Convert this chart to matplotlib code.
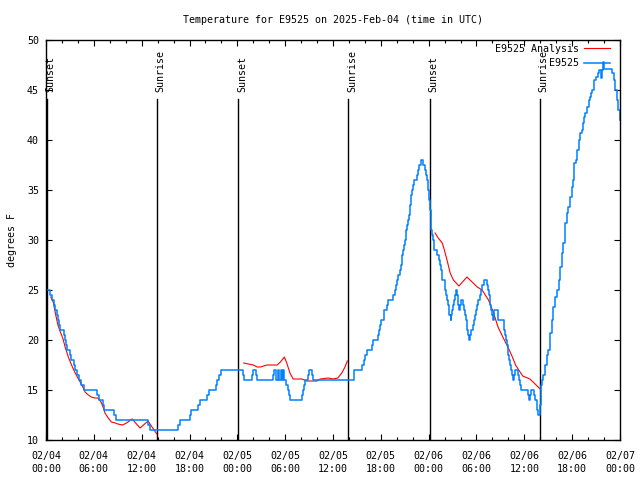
import numpy as np
import matplotlib
matplotlib.use('Agg')
import matplotlib.pyplot as plt

# observed temperature (hours since 2025-02-04 00:00 UTC, deg F), step data
obs_hours = [
    0.0, 0.55, 0.75, 0.95, 1.15, 1.35, 1.5, 1.65, 1.8, 2.2, 2.35, 2.5, 2.6, 2.95, 3.1,
    3.55, 3.7, 3.9, 4.05, 4.2, 4.45, 4.75, 6.45, 6.6, 7.1, 7.25, 8.55, 8.75, 12.85, 13.05,
    16.6, 16.75, 18.1, 18.25, 19.1, 19.35, 20.15, 20.45, 21.35, 21.5, 21.75, 22.0,
    24.7, 24.85, 25.9, 26.0, 26.35, 26.5, 28.5, 28.6, 28.9, 29.1, 29.25, 29.45, 29.6,
    29.75, 29.9, 30.1, 30.3, 30.45, 30.55, 32.05, 32.25, 32.4, 32.55, 32.9, 33.05,
    33.35, 33.5, 38.65, 39.7, 39.85, 40.05, 40.25, 40.95, 41.05, 41.6, 41.8, 41.95,
    42.05, 42.35, 42.45, 42.8, 42.95, 43.55, 43.75, 43.9, 44.05, 44.2, 44.35, 44.5,
    44.6, 44.7, 44.8, 44.9, 45.0, 45.1, 45.2, 45.3, 45.4, 45.5, 45.6, 45.7, 45.75,
    45.8, 45.9, 46.0, 46.15, 46.5, 46.65, 46.85, 47.0, 47.35, 47.55, 47.7, 47.85,
    47.95, 48.05, 48.15, 48.25, 48.35, 48.45, 48.55, 48.65, 49.1, 49.25, 49.4, 49.55,
    49.65, 49.7, 50.0, 50.1, 50.2, 50.3, 50.4, 50.5, 50.6, 50.75, 50.85, 50.95, 51.05,
    51.15, 51.25, 51.4, 51.55, 51.65, 51.75, 51.9, 52.05, 52.35, 52.45, 52.55, 52.65,
    52.75, 52.85, 52.95, 53.05, 53.2, 53.35, 53.5, 53.65, 53.8, 53.95, 54.1, 54.25,
    54.4, 54.6, 54.75, 54.95, 55.35, 55.45, 55.55, 55.65, 55.75, 55.85, 55.95, 56.05,
    56.2, 56.65, 56.75, 57.4, 57.5, 57.6, 57.7, 57.8, 57.9, 58.0, 58.1, 58.2, 58.3,
    58.45, 58.55, 58.7, 58.8, 59.2, 59.3, 59.45, 59.55, 60.45, 60.55, 60.75, 60.85,
    61.25, 61.4, 61.55, 61.65, 61.7, 61.95, 62.05, 62.15, 62.25, 62.4, 62.55, 62.65,
    62.8, 62.9, 63.0, 63.2, 63.45, 63.65, 63.9, 64.1, 64.3, 64.5, 64.7, 64.9, 65.1,
    65.3, 65.5, 65.7, 65.95, 66.1, 66.25, 66.5, 66.65, 66.8, 67.0, 67.2, 67.3, 67.5,
    67.6, 67.85, 68.05, 68.2, 68.35, 68.5, 68.7, 68.8, 69.0, 69.3, 69.4, 69.6, 69.7,
    69.85, 70.0, 70.9, 71.0, 71.2, 71.4, 71.6, 71.8, 71.95, 72.0,
]
obs_temps = [
    25.0, 24.5, 24.0, 23.5, 23.0, 22.5, 22.0, 21.5, 21.0, 20.5, 20.0, 19.5, 19.0, 18.5, 18.0,
    17.5, 17.0, 16.5, 16.5, 16.0, 15.5, 15.0, 14.5, 14.0, 13.5, 13.0, 12.5, 12.0, 11.5, 11.0,
    11.5, 12.0, 12.5, 13.0, 13.5, 14.0, 14.5, 15.0, 15.5, 16.0, 16.5, 17.0,
    16.5, 16.0, 16.5, 17.0, 16.5, 16.0, 16.5, 17.0, 16.0, 17.0, 16.0, 17.0, 16.0,
    17.0, 16.0, 15.5, 15.0, 14.5, 14.0, 14.5, 15.0, 15.5, 16.0, 16.5, 17.0,
    16.5, 16.0, 17.0, 17.5, 18.0, 18.5, 19.0, 19.5, 20.0, 20.5, 21.0, 21.5,
    22.0, 22.5, 23.0, 23.5, 24.0, 24.5, 25.0, 25.5, 26.0, 26.5, 27.0, 27.5,
    28.0, 28.5, 29.0, 29.5, 30.0, 30.5, 31.0, 31.5, 32.0, 32.5, 33.0, 33.5, 34.0,
    34.5, 35.0, 35.5, 36.0, 36.5, 37.0, 37.5, 38.0, 37.5, 37.0, 36.5, 36.0,
    35.0, 34.0, 33.0, 32.0, 31.0, 30.5, 30.0, 29.0, 28.5, 28.0, 27.5, 27.0,
    26.5, 26.0, 25.5, 25.0, 24.5, 24.0, 23.5, 23.0, 22.5, 22.0, 22.5, 23.0, 23.5,
    24.0, 24.5, 25.0, 24.5, 23.5, 23.0, 23.5, 24.0, 23.5, 23.0, 22.5, 22.0,
    21.5, 21.0, 20.5, 20.0, 20.5, 21.0, 21.5, 22.0, 22.5, 23.0, 23.5, 24.0,
    24.5, 25.0, 25.5, 26.0, 25.5, 25.0, 24.5, 24.0, 23.5, 23.0, 22.5, 22.0,
    23.0, 22.5, 22.0, 21.5, 21.0, 20.5, 20.0, 19.5, 19.0, 18.5, 18.0, 17.5, 17.0,
    16.5, 16.0, 16.5, 17.0, 16.5, 16.0, 15.5, 15.0, 14.5, 14.0, 14.5, 15.0,
    14.5, 14.0, 13.5, 13.0, 12.5, 13.5, 14.5, 15.5, 16.0, 16.5, 17.0, 17.5,
    18.0, 18.5, 19.0, 20.7, 22.0, 23.3, 24.3, 25.0, 26.0, 27.3, 28.7, 29.7, 31.7,
    32.7, 33.3, 34.3, 35.3, 36.0, 37.7, 38.0, 39.0, 40.0, 40.7, 41.0, 41.7, 42.3,
    42.7, 43.3, 44.0, 44.3, 44.7, 45.0, 45.7, 46.0, 46.3, 46.7, 47.0, 46.2, 47.0,
    47.8, 47.1, 47.1, 46.7, 46.0, 45.0, 44.0, 43.0, 42.0, 42.0,
]

# analysis temperature, three pieces separated by nan
ana_hours = [
    0.6, 0.9, 1.1, 1.3, 1.5, 1.7, 2.1, 2.4, 2.8, 3.2, 3.6, 4.0, 4.5, 4.9, 5.3, 5.7,
    6.1, 6.5, 6.9, 7.2, 7.4, 7.8, 8.2, 8.7, 9.0, 9.6, 10.1, 10.8, 11.8, 12.8, 13.3, 13.9,
    np.nan,
    24.8, 25.4, 26.0, 26.5, 26.9, 27.3, 27.7, 29.0, 29.4, 29.9, 30.2, 30.6, 31.0, 32.1,
    32.7, 34.0, 34.4, 35.4, 36.0, 36.6, 37.1, 37.5, 37.8,
    np.nan,
    48.8, 49.2, 49.7, 49.9, 50.3, 50.7, 51.1, 51.8, 52.8, 54.1, 54.7, 55.5, 56.1, 56.7,
    57.3, 58.0, 58.5, 58.9, 59.3, 59.8, 60.7, 61.1, 61.6, 62.0,
]
ana_temps = [
    24.3, 23.8, 23.0, 22.2, 21.5, 21.0, 20.2, 19.3, 18.3, 17.5, 16.8, 16.2, 15.5, 14.8, 14.5, 14.3,
    14.2, 14.2, 13.8, 13.2, 12.7, 12.2, 11.8, 11.7, 11.6, 11.5, 11.7, 12.1, 11.2, 11.9, 11.3, 10.6,
    np.nan,
    17.7, 17.6, 17.5, 17.3, 17.3, 17.4, 17.5, 17.5, 17.8, 18.3, 17.7, 16.7, 16.1, 16.1,
    15.9, 15.9, 16.1, 16.2, 16.1, 16.2, 16.7, 17.3, 17.9,
    np.nan,
    30.7, 30.2, 29.7, 29.2, 28.0, 26.7, 26.0, 25.4, 26.3, 25.3, 25.0, 24.0, 22.8, 21.3,
    20.3, 19.2, 18.3, 17.5, 17.0, 16.4, 16.1, 15.8, 15.4, 15.1,
]

sun_hours = [0.1, 13.95, 24.12, 37.92, 48.2, 62.0]
sun_labels = ['Sunset', 'Sunrise', 'Sunset', 'Sunrise', 'Sunset', 'Sunrise']

tick_hours = list(range(0, 73, 6))
tick_labels = ['02/04\n00:00', '02/04\n06:00', '02/04\n12:00', '02/04\n18:00',
               '02/05\n00:00', '02/05\n06:00', '02/05\n12:00', '02/05\n18:00',
               '02/06\n00:00', '02/06\n06:00', '02/06\n12:00', '02/06\n18:00',
               '02/07\n00:00']

plt.rcParams['font.family'] = ['DejaVu Sans Mono']
plt.rcParams['font.size'] = 7.2

fig = plt.figure(figsize=(6.4, 4.8), dpi=100)
ax = fig.add_axes([46 / 640, 40 / 480, 574 / 640, 400 / 480])

for h, lab in zip(sun_hours, sun_labels):
    ax.plot([h, h], [10, 44.1], color='black', lw=1.0)
    ax.text(h + 0.45, 44.8, lab, rotation=90, ha='center', va='bottom')

ax.plot(ana_hours, ana_temps, color='red', lw=0.8, label='E9525 Analysis')
ax.plot(obs_hours, obs_temps, color='#0080ff', lw=1.1, drawstyle='steps-post', label='E9525')

ax.set_xlim(0, 72)
ax.set_ylim(10, 50)
ax.set_xticks(tick_hours)
ax.set_xticklabels(tick_labels, linespacing=1.3)
ax.set_xticks(range(0, 73, 2), minor=True)
ax.set_yticks(range(10, 51, 5))
ax.tick_params(which='both', direction='in', top=True, right=True)
ax.tick_params(which='major', length=4, width=0.8, pad=5)
ax.tick_params(which='minor', length=2, width=0.8)
ax.tick_params(axis='x', which='major', pad=8)
for s in ax.spines.values():
    s.set_linewidth(1.0)

ax.set_title('Temperature for E9525 on 2025-Feb-04 (time in UTC)', fontsize=7.2, pad=12)
ax.set_ylabel('degrees F', labelpad=7)

ax.legend(loc='upper right', bbox_to_anchor=(0.9826, 0.99), frameon=False,
          markerfirst=False, borderpad=0, borderaxespad=0, handlelength=2.6,
          handletextpad=0.55, labelspacing=0.45)

fig.savefig('out.png', dpi=100)
